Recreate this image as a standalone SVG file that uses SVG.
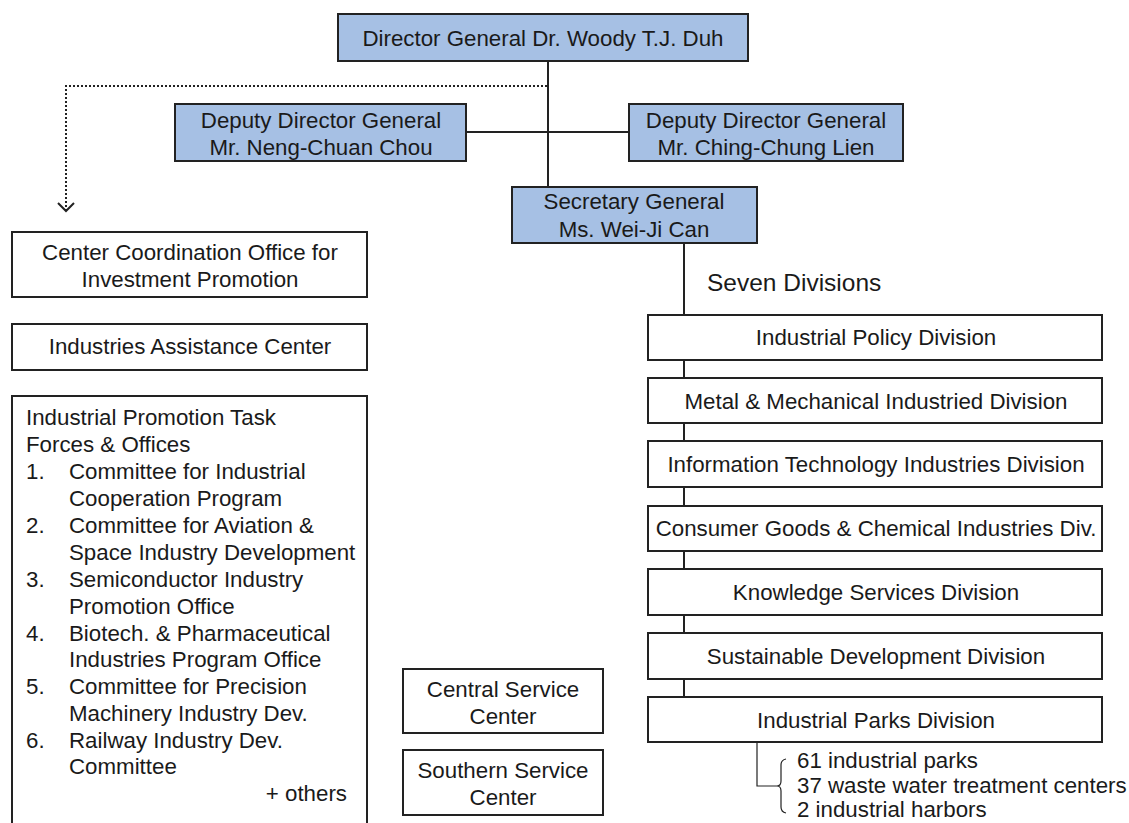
<svg xmlns="http://www.w3.org/2000/svg" width="1129" height="823" viewBox="0 0 1129 823">
<style>
  .box{fill:#ffffff;stroke:#222222;stroke-width:2}
  .blue{fill:#a6c0e4;stroke:#222222;stroke-width:2}
  .t{font-family:"Liberation Sans",Arial,Helvetica,sans-serif;font-size:22.3px;fill:#1a1a1a}
  .c{text-anchor:middle}
  .ln{fill:none;stroke:#222222;stroke-width:2}
  .dot{fill:none;stroke:#222222;stroke-width:2;stroke-dasharray:2 2}
  .thin{fill:none;stroke:#222222;stroke-width:1.2}
</style>
<defs>
  <marker id="openv" viewBox="0 0 20 12" refX="10" refY="10" markerWidth="20" markerHeight="12" markerUnits="userSpaceOnUse" orient="0">
    <path d="M2,2 L10,10 L18,2" fill="none" stroke="#222222" stroke-width="2"/>
  </marker>
</defs>
<rect width="1129" height="823" fill="#ffffff"/>

<g id="connectors">
  <line class="ln" x1="548" y1="61" x2="548" y2="187"/>
  <line class="ln" x1="466" y1="132" x2="629" y2="132"/>
  <polyline class="dot" points="547,86 66,86 66,211" marker-end="url(#openv)"/>
  <line class="ln" x1="684" y1="243" x2="684" y2="315"/>
  <line class="ln" x1="684" y1="360" x2="684" y2="378"/>
  <line class="ln" x1="684" y1="423" x2="684" y2="441"/>
  <line class="ln" x1="684" y1="487" x2="684" y2="506"/>
  <line class="ln" x1="684" y1="551" x2="684" y2="569"/>
  <line class="ln" x1="684" y1="615" x2="684" y2="633"/>
  <line class="ln" x1="684" y1="679" x2="684" y2="697"/>
  <polyline class="thin" points="757,742 757,786 777,786"/>
  <path class="thin" d="M786,759 Q781,760 781,765 L781,781 Q781,786 777,786 Q781,786 781,791 L781,807 Q781,812 786,813"/>
</g>

<g id="director">
  <rect class="blue" x="338" y="14" width="410" height="47"/>
  <text class="t c" x="543" y="46">Director General Dr. Woody T.J. Duh</text>
</g>
<g id="deputy-left">
  <rect class="blue" x="175" y="104" width="291" height="57"/>
  <text class="t c" x="321" y="128">Deputy Director General</text>
  <text class="t c" x="321" y="155">Mr. Neng-Chuan Chou</text>
</g>
<g id="deputy-right">
  <rect class="blue" x="629" y="104" width="274" height="57"/>
  <text class="t c" x="766" y="128">Deputy Director General</text>
  <text class="t c" x="766" y="155">Mr. Ching-Chung Lien</text>
</g>
<g id="secretary">
  <rect class="blue" x="512" y="187" width="245" height="56"/>
  <text class="t c" x="634" y="209">Secretary General</text>
  <text class="t c" x="634" y="237">Ms. Wei-Ji Can</text>
</g>
<g id="seven-divisions-label">
  <text class="t" x="707" y="291" style="font-size:24.5px">Seven Divisions</text>
</g>

<g id="div-policy">
  <rect class="box" x="648" y="315" width="454" height="45"/>
  <text class="t c" x="876" y="345">Industrial Policy Division</text>
</g>
<g id="div-metal">
  <rect class="box" x="648" y="378" width="454" height="45"/>
  <text class="t c" x="876" y="409">Metal &amp; Mechanical Industried Division</text>
</g>
<g id="div-it">
  <rect class="box" x="648" y="441" width="454" height="46"/>
  <text class="t c" x="876" y="472">Information Technology Industries Division</text>
</g>
<g id="div-consumer">
  <rect class="box" x="648" y="506" width="454" height="45"/>
  <text class="t c" x="876" y="536">Consumer Goods &amp; Chemical Industries Div.</text>
</g>
<g id="div-knowledge">
  <rect class="box" x="648" y="569" width="454" height="46"/>
  <text class="t c" x="876" y="600">Knowledge Services Division</text>
</g>
<g id="div-sustainable">
  <rect class="box" x="648" y="633" width="454" height="46"/>
  <text class="t c" x="876" y="664">Sustainable Development Division</text>
</g>
<g id="div-parks">
  <rect class="box" x="648" y="697" width="454" height="45"/>
  <text class="t c" x="876" y="728">Industrial Parks Division</text>
</g>
<g id="parks-details">
  <text class="t" x="797" y="768">61 industrial parks</text>
  <text class="t" x="797" y="793">37 waste water treatment centers</text>
  <text class="t" x="797" y="817">2 industrial harbors</text>
</g>

<g id="center-coordination">
  <rect class="box" x="12" y="232" width="355" height="65"/>
  <text class="t c" x="190" y="260">Center Coordination Office for</text>
  <text class="t c" x="190" y="287">Investment Promotion</text>
</g>
<g id="industries-assistance">
  <rect class="box" x="12" y="324" width="355" height="46"/>
  <text class="t c" x="190" y="354">Industries Assistance Center</text>
</g>
<g id="task-forces">
  <rect class="box" x="12" y="396" width="355" height="450"/>
  <text class="t" x="26" y="425">Industrial Promotion Task</text>
  <text class="t" x="26" y="452">Forces &amp; Offices</text>
  <text class="t" x="26" y="479">1.</text>
  <text class="t" x="69" y="479">Committee for Industrial</text>
  <text class="t" x="69" y="506">Cooperation Program</text>
  <text class="t" x="26" y="533">2.</text>
  <text class="t" x="69" y="533">Committee for Aviation &amp;</text>
  <text class="t" x="69" y="560">Space Industry Development</text>
  <text class="t" x="26" y="587">3.</text>
  <text class="t" x="69" y="587">Semiconductor Industry</text>
  <text class="t" x="69" y="614">Promotion Office</text>
  <text class="t" x="26" y="641">4.</text>
  <text class="t" x="69" y="641">Biotech. &amp; Pharmaceutical</text>
  <text class="t" x="69" y="667">Industries Program Office</text>
  <text class="t" x="26" y="694">5.</text>
  <text class="t" x="69" y="694">Committee for Precision</text>
  <text class="t" x="69" y="721">Machinery Industry Dev.</text>
  <text class="t" x="26" y="748">6.</text>
  <text class="t" x="69" y="748">Railway Industry Dev.</text>
  <text class="t" x="69" y="774">Committee</text>
  <text class="t" x="347" y="801" text-anchor="end">+ others</text>
</g>

<g id="central-service">
  <rect class="box" x="403" y="669" width="200" height="64"/>
  <text class="t c" x="503" y="697">Central Service</text>
  <text class="t c" x="503" y="724">Center</text>
</g>
<g id="southern-service">
  <rect class="box" x="403" y="750" width="200" height="65"/>
  <text class="t c" x="503" y="778">Southern Service</text>
  <text class="t c" x="503" y="805">Center</text>
</g>
</svg>
